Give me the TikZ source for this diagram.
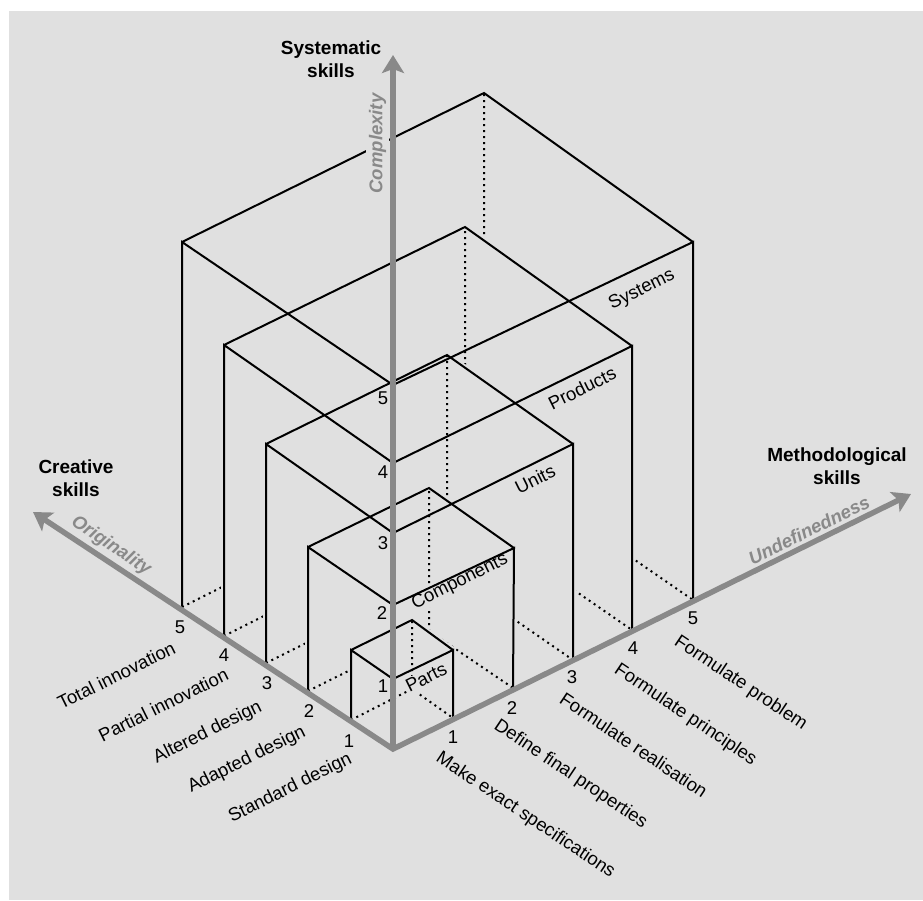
\documentclass[tikz,border=0pt]{standalone}
\usepackage{fontspec}
\setmainfont{Liberation Sans}
\usetikzlibrary{arrows.meta}
\definecolor{bgfill}{HTML}{E0E0E0}
\definecolor{axisgray}{HTML}{898989}
\begin{document}
\begin{tikzpicture}[x=1pt, y=-1pt,
  edge/.style={line width=2pt, line join=miter},
  hiddenedge/.style={line width=2pt, dash pattern=on 2pt off 4pt},
  mask/.style={fill=bgfill, draw=bgfill, line width=6pt, line join=round},
  axis/.style={draw=axisgray, line width=5.5pt, line join=miter},
  numlbl/.style={font=\fontsize{18.5}{22}\selectfont, inner sep=0pt},
  scalelbl/.style={font=\fontsize{18.5}{22}\selectfont, inner sep=0pt, text height=13pt, text depth=4pt},
  boxlbl/.style={font=\fontsize{18.5}{22}\selectfont, fill=bgfill, inner sep=1pt, text height=13pt, text depth=4pt, rotate=26.4},
  axlbl/.style={font=\bfseries\itshape\fontsize{18.5}{22}\selectfont, text=axisgray},
  title/.style={font=\bfseries\fontsize{19}{23}\selectfont, align=center}
]
% canvas
\useasboundingbox (0,0) rectangle (923,900);
\fill[bgfill] (9,11) rectangle (923,900);

% origin and axis tips
\coordinate (O) at (393,749);
\coordinate (tipL) at (33,512);
\coordinate (tipR) at (911,494);
\coordinate (tipU) at (393,55);

% box corners: a = left foot, b = right foot, c = back foot, t = top
\coordinate (a5) at (182,607); \coordinate (at5) at (182,242); \coordinate (ot5) at (393,385);
\coordinate (bt5) at (693,242); \coordinate (b5) at (693,600); \coordinate (ct5) at (484,93); \coordinate (c5) at (484,456);
\coordinate (a4) at (224,636); \coordinate (at4) at (224,345); \coordinate (ot4) at (393,463);
\coordinate (bt4) at (632,346); \coordinate (b4) at (632,630); \coordinate (ct4) at (465,227); \coordinate (c4) at (465,515);
\coordinate (a3) at (266,663); \coordinate (at3) at (266,444); \coordinate (ot3) at (393,533);
\coordinate (bt3) at (573,444); \coordinate (b3) at (573,660); \coordinate (ct3) at (447,355); \coordinate (c3) at (447,573);
\coordinate (a2) at (308,691); \coordinate (at2) at (308,547); \coordinate (ot2) at (393,605);
\coordinate (bt2) at (514,548); \coordinate (b2) at (513,688); \coordinate (ct2) at (429,488); \coordinate (c2) at (429,631);
\coordinate (a1) at (351,720); \coordinate (at1) at (351,650); \coordinate (ot1) at (393,679);
\coordinate (bt1) at (453,650); \coordinate (b1) at (453,718); \coordinate (ct1) at (412,620); \coordinate (c1) at (412,689);

% hidden edges, each box masking the hidden edges of the box around it
\foreach \k/\m in {5/4,4/3,3/2,2/1}{
  \draw[hiddenedge] (a\k) -- (c\k) -- (b\k) (c\k) -- (ct\k);
  \path[mask] (a\m) -- (at\m) -- (ct\m) -- (bt\m) -- (b\m) -- (O) -- cycle;
}
\draw[hiddenedge] (a1) -- (c1) -- (b1) (c1) -- (ct1);

% box names
\node[boxlbl] (lsys) at (642,290) {Systems};
\node[boxlbl] (lpro) at (583,390) {Products};
\node[boxlbl] (luni) at (536,481) {Units};
\node[boxlbl] (lcom) at (460,582) {Components};
\node[boxlbl] (lpar) at (427,679) {Parts};

% visible edges
\foreach \k in {1,...,5}{
  \draw[edge] (a\k) -- (at\k) -- (ot\k) -- (bt\k) -- (b\k)
              (at\k) -- (ct\k) -- (bt\k);
}

\node[axlbl, rotate=90, fill=bgfill, inner sep=3pt] (lcx) at (377.5,143.5) {Complexity};

% axes
\draw[axis, {Stealth[length=18pt,width=22pt,inset=4pt]}-{Stealth[length=18pt,width=22pt,inset=4pt]}]
  (tipL) -- (O) -- (tipR);
\draw[axis, -{Stealth[length=18pt,width=22pt,inset=4pt]}] (O) -- (tipU);

\node[axlbl, rotate=-33.8] (lorg) at (111,546) {Originality};
\node[axlbl, rotate=26.4] (lund) at (809,530) {Undefinedness};

% axis titles
\node[title] (tsys) at (331,59) {Systematic\\skills};
\node[title] (tcre) at (76,478) {Creative\\skills};
\node[title] (tmet) at (837,466) {Methodological\\skills};

% scale numbers
\node[numlbl] (nl5) at (180,627) {5};
\node[numlbl] (nl4) at (224,655) {4};
\node[numlbl] (nl3) at (267,683) {3};
\node[numlbl] (nl2) at (309,711) {2};
\node[numlbl] (nl1) at (349,741) {1};
\node[numlbl] (nr5) at (693,618) {5};
\node[numlbl] (nr4) at (633,648) {4};
\node[numlbl] (nr3) at (572,677) {3};
\node[numlbl] (nr2) at (512,708) {2};
\node[numlbl] (nr1) at (453,737) {1};
\node[numlbl] (nu5) at (383,398) {5};
\node[numlbl] (nu4) at (383,472) {4};
\node[numlbl] (nu3) at (383,543) {3};
\node[numlbl] (nu2) at (382,613) {2};
\node[numlbl] (nu1) at (383,686) {1};

% scale descriptions
\node[scalelbl, rotate=26.4, anchor=east] (sl5) at (175,648.5) {Total innovation};
\node[scalelbl, rotate=26.4, anchor=east] (sl4) at (228,675) {Partial innovation};
\node[scalelbl, rotate=26.4, anchor=east] (sl3) at (261,706.5) {Altered design};
\node[scalelbl, rotate=26.4, anchor=east] (sl2) at (304.7,731.5) {Adapted design};
\node[scalelbl, rotate=26.4, anchor=east] (sl1) at (351,758.5) {Standard design};
\node[scalelbl, rotate=-33.8, anchor=west] (sr5) at (675.8,640.3) {Formulate problem};
\node[scalelbl, rotate=-33.8, anchor=west] (sr4) at (615.8,668.7) {Formulate principles};
\node[scalelbl, rotate=-33.8, anchor=west] (sr3) at (560.8,698.7) {Formulate realisation};
\node[scalelbl, rotate=-33.8, anchor=west] (sr2) at (495.5,724.6) {Define final properties};
\node[scalelbl, rotate=-33.8, anchor=west] (sr1) at (437.5,757) {Make exact specifications};
\end{tikzpicture}
\end{document}
